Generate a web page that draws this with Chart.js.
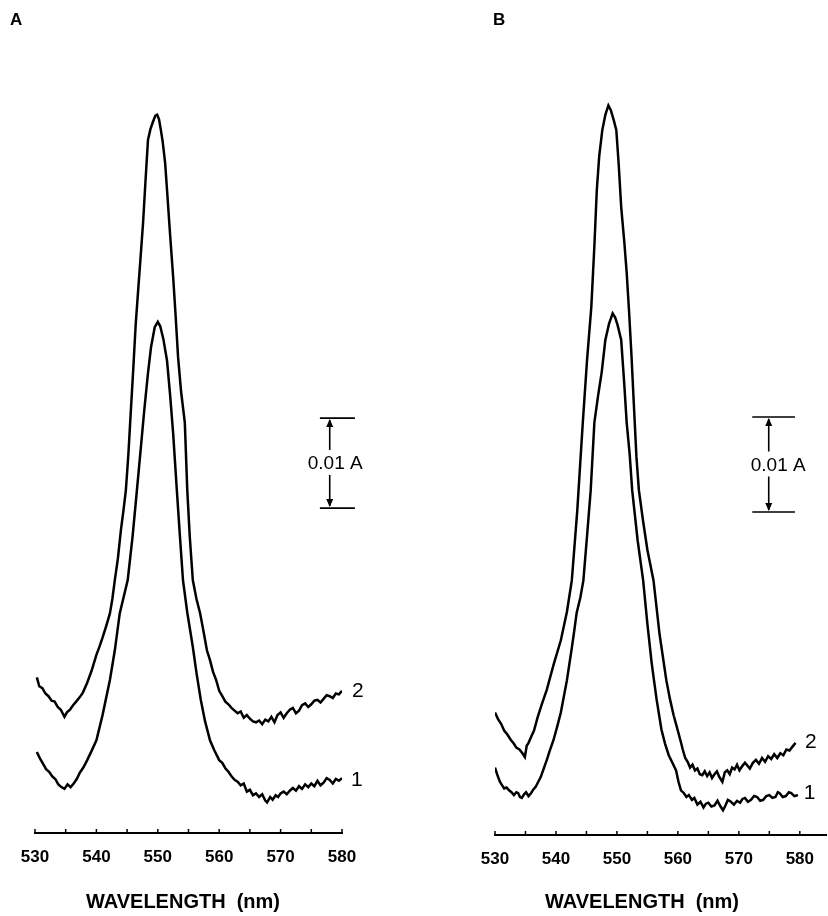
<!DOCTYPE html>
<html lang="en">
<head>
<meta charset="UTF-8">
<title>Absorbance spectra A / B</title>
<script src="https://cdn.jsdelivr.net/npm/chart.js@4.4.1/dist/chart.umd.min.js"></script>
<style>
    html, body { margin: 0; padding: 0; background: #fff; }
    .panel { position: absolute; top: 0; width: 414px; height: 916px; }
    #panelA { left: 0; }
    #panelB { left: 414px; }
</style>
</head>
<body>
<div class="panel" id="panelA"><canvas id="chartA"></canvas></div>
<div class="panel" id="panelB"><canvas id="chartB"></canvas></div>
<script>
// ---- data (wavelength in nm, absorbance in A, baseline = axis) ----
const tickValues = [530, 535, 540, 545, 550, 555, 560, 565, 570, 575, 580];

// Panel A, trace 1
const waveA1 = [530.3, 530.8, 531.3, 531.8, 532.3, 532.8, 533.3, 533.8, 534.3, 534.8, 535.3, 535.8, 536.3, 536.8, 537.3,
    537.9, 538.5, 539.2, 540, 541, 542.2, 543, 543.8, 545.1, 545.9, 546.6, 547.1, 547.8, 548.4, 548.9,
    549.5, 550, 550.4, 550.9, 551.5, 552, 552.5, 553.1, 553.6, 554.1, 554.8, 555.7, 556.3, 557, 557.7,
    558.5, 559.2, 560, 560.5, 561, 561.5, 562, 562.5, 563, 563.5, 564, 564.5, 565, 565.5, 566,
    566.5, 567, 567.5, 567.8, 568.3, 568.7, 569.2, 569.6, 570, 570.5, 571, 571.5, 572, 572.5, 573,
    573.5, 574, 574.5, 575, 575.5, 576, 576.5, 577, 577.5, 578, 578.5, 579, 579.5, 580];
const absA1 = [0.0090, 0.0083, 0.0077, 0.0071, 0.0068, 0.0063, 0.0060, 0.0054, 0.0051, 0.0049, 0.0054, 0.0051, 0.0055, 0.0060, 0.0067,
    0.0073, 0.0081, 0.0091, 0.0103, 0.0131, 0.0170, 0.0203, 0.0244, 0.0281, 0.0330, 0.0381, 0.0418, 0.0470, 0.0511, 0.0540,
    0.0562, 0.0568, 0.0563, 0.0549, 0.0525, 0.0487, 0.0444, 0.0381, 0.0330, 0.0281, 0.0245, 0.0207, 0.0178, 0.0148, 0.0124,
    0.0103, 0.0092, 0.0081, 0.0078, 0.0072, 0.0068, 0.0063, 0.0059, 0.0057, 0.0053, 0.0055, 0.0046, 0.0048, 0.0042, 0.0044,
    0.0040, 0.0043, 0.0036, 0.0034, 0.0040, 0.0037, 0.0042, 0.0040, 0.0044, 0.0046, 0.0043, 0.0047, 0.0050, 0.0047, 0.0052,
    0.0049, 0.0054, 0.0051, 0.0055, 0.0052, 0.0058, 0.0053, 0.0056, 0.0061, 0.0059, 0.0055, 0.0060, 0.0058, 0.0061];

// Panel A, trace 2
const waveA2 = [530.3, 530.7, 531.2, 531.7, 532.2, 532.7, 533.2, 533.7, 534.2, 534.8, 535.2, 535.7, 536.2, 536.7, 537.3,
    537.8, 538.5, 539.2, 540, 540.5, 541, 541.6, 542.2, 542.6, 543, 543.5, 544, 544.4, 544.8, 545.2,
    545.5, 546, 546.4, 546.8, 547.2, 547.6, 548, 548.4, 548.8, 549.2, 549.6, 549.9, 550.2, 550.5, 550.8,
    551.2, 551.6, 552, 552.5, 552.9, 553.3, 553.8, 554.4, 554.8, 555.2, 555.7, 556.3, 556.9, 557.5, 558,
    558.5, 559, 559.5, 560, 560.6, 561, 561.5, 562, 562.5, 563, 563.5, 564, 564.5, 565, 565.5,
    566, 566.5, 567, 567.5, 568, 568.5, 569, 569.5, 570, 570.5, 571, 571.5, 572, 572.5, 573,
    573.5, 574, 574.5, 575, 575.5, 576, 576.5, 577, 577.5, 578, 578.5, 579, 579.5, 580];
const absA2 = [0.0173, 0.0163, 0.0161, 0.0155, 0.0152, 0.0147, 0.0146, 0.0140, 0.0137, 0.0129, 0.0134, 0.0137, 0.0142, 0.0146, 0.0151,
    0.0156, 0.0167, 0.0180, 0.0198, 0.0207, 0.0217, 0.0230, 0.0244, 0.0260, 0.0281, 0.0305, 0.0337, 0.0358, 0.0381, 0.0420,
    0.0456, 0.0515, 0.0565, 0.0603, 0.0640, 0.0678, 0.0725, 0.0770, 0.0782, 0.0790, 0.0797, 0.0798, 0.0793, 0.0781, 0.0768,
    0.0744, 0.0705, 0.0665, 0.0618, 0.0575, 0.0529, 0.0490, 0.0456, 0.0381, 0.0330, 0.0281, 0.0260, 0.0244, 0.0222, 0.0203,
    0.0192, 0.0179, 0.0170, 0.0158, 0.0151, 0.0146, 0.0143, 0.0139, 0.0136, 0.0133, 0.0135, 0.0128, 0.0131, 0.0127, 0.0124,
    0.0123, 0.0125, 0.0121, 0.0126, 0.0124, 0.0129, 0.0123, 0.0131, 0.0134, 0.0128, 0.0133, 0.0137, 0.0139, 0.0133, 0.0136,
    0.0142, 0.0144, 0.0140, 0.0143, 0.0147, 0.0148, 0.0145, 0.0149, 0.0153, 0.0152, 0.0150, 0.0155, 0.0154, 0.0158];

// Panel B, trace 1
const waveB1 = [530, 530.4, 530.8, 531.2, 531.5, 531.9, 532.3, 532.7, 533.1, 533.5, 533.8, 534.1, 534.4, 534.8, 535.1,
    535.5, 535.9, 536.3, 536.7, 537.1, 537.5, 538, 538.5, 539, 539.6, 540.2, 540.8, 541.3, 541.8, 542.2,
    542.6, 543, 543.4, 544, 544.5, 545.1, 545.7, 546.3, 546.9, 547.5, 548.1, 548.7, 549.3, 549.7, 550.1,
    550.7, 551.2, 551.6, 552.1, 552.5, 553.4, 554.3, 555, 555.7, 556.5, 557.3, 557.9, 558.5, 559.1, 559.7,
    560.1, 560.5, 561, 561.4, 561.8, 562.3, 562.7, 563.2, 563.7, 564.2, 564.6, 565, 565.5, 566, 566.5,
    567, 567.4, 567.8, 568.2, 568.7, 569.2, 569.7, 570.2, 570.6, 571, 571.5, 572, 572.5, 573, 573.5,
    574, 574.5, 575, 575.5, 576, 576.4, 576.7, 577.2, 577.7, 578.2, 578.6, 579.1, 579.7];
const absB1 = [0.0071, 0.0063, 0.0056, 0.0052, 0.0049, 0.0050, 0.0047, 0.0045, 0.0042, 0.0045, 0.0044, 0.0040, 0.0039, 0.0043, 0.0045,
    0.0041, 0.0044, 0.0048, 0.0051, 0.0056, 0.0061, 0.0070, 0.0079, 0.0089, 0.0100, 0.0114, 0.0129, 0.0146, 0.0163, 0.0180,
    0.0197, 0.0215, 0.0234, 0.0250, 0.0268, 0.0315, 0.0363, 0.0434, 0.0462, 0.0487, 0.0521, 0.0538, 0.0549, 0.0545, 0.0537,
    0.0521, 0.0475, 0.0434, 0.0400, 0.0363, 0.0310, 0.0268, 0.0222, 0.0181, 0.0143, 0.0111, 0.0096, 0.0084, 0.0076, 0.0068,
    0.0056, 0.0047, 0.0044, 0.0040, 0.0042, 0.0037, 0.0039, 0.0032, 0.0035, 0.0029, 0.0033, 0.0034, 0.0030, 0.0031, 0.0036,
    0.0030, 0.0026, 0.0031, 0.0037, 0.0035, 0.0032, 0.0036, 0.0034, 0.0038, 0.0039, 0.0035, 0.0037, 0.0041, 0.0040, 0.0036,
    0.0037, 0.0041, 0.0042, 0.0039, 0.0040, 0.0045, 0.0044, 0.0040, 0.0041, 0.0045, 0.0044, 0.0041, 0.0042];

// Panel B, trace 2
const waveB2 = [530, 530.5, 531, 531.5, 532, 532.6, 533, 533.5, 534, 534.5, 534.9, 535.2, 535.5, 535.9, 536.4,
    537, 537.7, 538.5, 539.6, 540.8, 541.8, 542.6, 543.5, 544.4, 545.1, 545.8, 546.3, 546.7, 547.1, 547.6,
    548.1, 548.6, 549, 549.5, 549.9, 550.3, 550.7, 551.2, 551.6, 552, 552.4, 552.8, 553.2, 553.6, 554.3,
    555, 556, 557, 558.1, 558.7, 559.3, 559.9, 560.4, 560.8, 561.2, 561.6, 562, 562.4, 562.8, 563.2,
    563.6, 564, 564.4, 564.8, 565.2, 565.6, 566, 566.4, 566.8, 567.3, 567.7, 568.1, 568.5, 568.9, 569.3,
    569.7, 570.1, 570.5, 571, 571.4, 571.8, 572.3, 572.8, 573.3, 573.8, 574.3, 574.8, 575.3, 575.8, 576.3,
    576.8, 577.3, 577.8, 578.3, 578.8, 579.3];
const absB2 = [0.0129, 0.0122, 0.0117, 0.0110, 0.0106, 0.0100, 0.0097, 0.0092, 0.0090, 0.0086, 0.0082, 0.0094, 0.0097, 0.0103, 0.0110,
    0.0124, 0.0138, 0.0153, 0.0179, 0.0205, 0.0235, 0.0268, 0.0342, 0.0434, 0.0500, 0.0556, 0.0620, 0.0679, 0.0715, 0.0742,
    0.0758, 0.0768, 0.0763, 0.0752, 0.0742, 0.0705, 0.0661, 0.0625, 0.0592, 0.0550, 0.0503, 0.0450, 0.0398, 0.0363, 0.0330,
    0.0300, 0.0268, 0.0211, 0.0163, 0.0143, 0.0126, 0.0112, 0.0100, 0.0090, 0.0081, 0.0077, 0.0071, 0.0074, 0.0068, 0.0070,
    0.0064, 0.0063, 0.0067, 0.0062, 0.0066, 0.0060, 0.0064, 0.0067, 0.0061, 0.0056, 0.0066, 0.0068, 0.0064, 0.0071, 0.0069,
    0.0074, 0.0068, 0.0072, 0.0076, 0.0073, 0.0070, 0.0076, 0.0079, 0.0075, 0.0081, 0.0077, 0.0083, 0.0080, 0.0085, 0.0081,
    0.0086, 0.0084, 0.0090, 0.0089, 0.0093, 0.0097];

const FONT = '"Liberation Sans", Arial, Helvetica, sans-serif';

function toPoints(xs, ys) {
    return xs.map((x, i) => ({ x: x, y: ys[i] }));
}

// draws the little bits the library doesn't: upward ticks, panel letter,
// the 0.01 A scale bar, trace numbers and the axis title
const decorPlugin = {
    id: 'decor',
    afterDraw(chart, args, o) {
        const ctx = chart.ctx;
        const xs = chart.scales.x, ys = chart.scales.y;
        const axisY = chart.chartArea.bottom;
        ctx.save();
        ctx.strokeStyle = '#000';
        ctx.fillStyle = '#000';

        // ticks sit on top of the axis line
        ctx.lineWidth = 1.5;
        tickValues.forEach(v => {
            const px = xs.getPixelForValue(v);
            ctx.beginPath();
            ctx.moveTo(px, axisY);
            ctx.lineTo(px, axisY - 4);
            ctx.stroke();
        });

        // panel letter
        ctx.font = 'bold 17px ' + FONT;
        ctx.textAlign = 'left';
        ctx.textBaseline = 'top';
        ctx.fillText(o.letter, o.letterX, o.letterY);

        // scale bar
        const b = o.bar;
        const vx = xs.getPixelForValue(b.x);
        const hx0 = xs.getPixelForValue(b.x0), hx1 = xs.getPixelForValue(b.x1);
        const yTop = ys.getPixelForValue(b.top), yBot = ys.getPixelForValue(b.bottom);
        const midY = (yTop + yBot) / 2;
        ctx.lineWidth = 1.6;
        ctx.beginPath();
        ctx.moveTo(hx0, yTop); ctx.lineTo(hx1, yTop);
        ctx.moveTo(hx0, yBot); ctx.lineTo(hx1, yBot);
        ctx.moveTo(vx, yTop + 2); ctx.lineTo(vx, midY - 13);
        ctx.moveTo(vx, midY + 12); ctx.lineTo(vx, yBot - 2);
        ctx.stroke();
        // arrow heads
        ctx.beginPath();
        ctx.moveTo(vx, yTop + 1); ctx.lineTo(vx - 3.5, yTop + 9); ctx.lineTo(vx + 3.5, yTop + 9); ctx.closePath();
        ctx.moveTo(vx, yBot - 1); ctx.lineTo(vx - 3.5, yBot - 9); ctx.lineTo(vx + 3.5, yBot - 9); ctx.closePath();
        ctx.fill();
        ctx.font = '19px ' + FONT;
        ctx.textAlign = 'left';
        ctx.textBaseline = 'middle';
        ctx.fillText('0.01 A', vx - o.barTextShift, midY + 1);

        // trace numbers
        ctx.font = '21px ' + FONT;
        ctx.textAlign = 'center';
        o.traceLabels.forEach(t => {
            ctx.fillText(t.text, xs.getPixelForValue(t.x), ys.getPixelForValue(t.y));
        });

        // axis title
        ctx.font = 'bold 20px ' + FONT;
        ctx.textAlign = 'center';
        ctx.fillText('WAVELENGTH  (nm)', o.titleX, 902);
        ctx.restore();
    }
};

function makePanel(canvasId, sets, cfg) {
    new Chart(document.getElementById(canvasId), {
        type: 'line',
        data: {
            datasets: sets.map(s => ({
                data: toPoints(s[0], s[1]),
                borderColor: '#000',
                borderWidth: 2.5,
                pointRadius: 0,
                tension: 0,
                fill: false
            }))
        },
        options: {
            responsive: true,
            maintainAspectRatio: false,
            animation: false,
            events: [],
            layout: { padding: { left: cfg.padLeft, right: cfg.padRight, top: 0, bottom: 0 } },
            scales: {
                x: {
                    type: 'linear',
                    min: 530,
                    max: cfg.xMax,
                    afterFit: scale => { scale.height = cfg.axisHeight; },
                    grid: { display: false, drawTicks: false },
                    border: { display: true, color: '#000', width: 2 },
                    ticks: {
                        stepSize: 5,
                        includeBounds: false,
                        autoSkip: false,
                        maxRotation: 0,
                        padding: 14,
                        color: '#000',
                        font: { family: FONT, size: 17, weight: 'bold' },
                        callback: v => (v % 10 === 0 ? String(v) : '')
                    }
                },
                y: {
                    display: false,
                    min: 0,
                    max: cfg.yMax
                }
            },
            plugins: {
                legend: { display: false },
                tooltip: { enabled: false },
                decor: cfg.decor
            }
        },
        plugins: [decorPlugin]
    });
}

makePanel('chartA', [[waveA1, absA1], [waveA2, absA2]], {
    padLeft: 35, padRight: 72, xMax: 580, axisHeight: 83, yMax: 833 / 9000,
    decor: {
        letter: 'A', letterX: 10, letterY: 12, titleX: 183, barTextShift: 22,
        bar: { x: 578.0, x0: 576.4, x1: 582.1, top: 0.0461, bottom: 0.0361 },
        traceLabels: [{ text: '2', x: 582.6, y: 0.0158 }, { text: '1', x: 582.4, y: 0.0059 }]
    }
});

makePanel('chartB', [[waveB1, absB1], [waveB2, absB2]], {
    padLeft: 81, padRight: 0, xMax: 584.4, axisHeight: 81, yMax: 835 / 9500,
    decor: {
        letter: 'B', letterX: 79, letterY: 12, titleX: 228, barTextShift: 18,
        bar: { x: 574.9, x0: 572.2, x1: 579.2, top: 0.0440, bottom: 0.0340 },
        traceLabels: [{ text: '2', x: 581.8, y: 0.0098 }, { text: '1', x: 581.6, y: 0.0044 }]
    }
});
</script>
</body>
</html>
